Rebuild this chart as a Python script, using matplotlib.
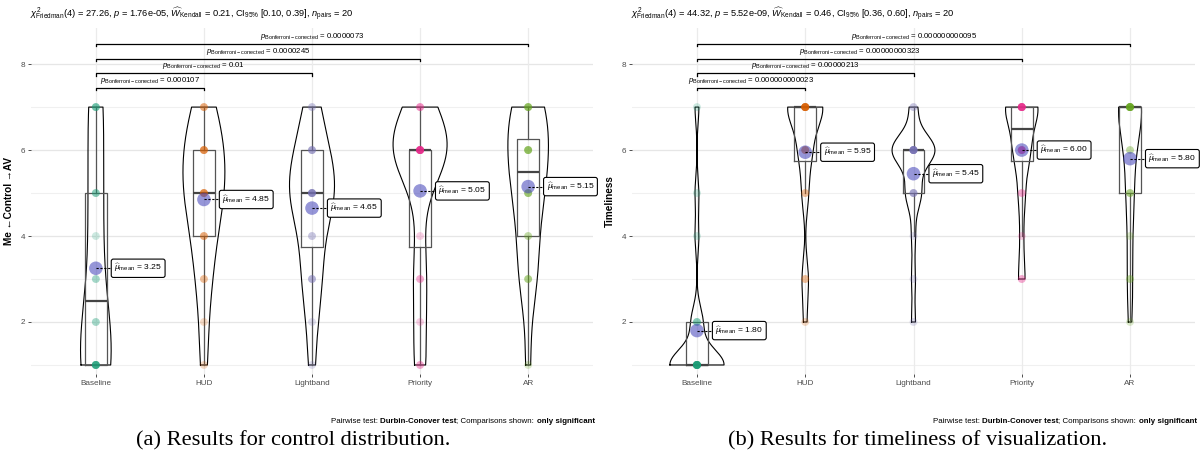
import numpy as np
import matplotlib
matplotlib.use('Agg')
import matplotlib.pyplot as plt

plt.rcParams['font.family'] = ['Liberation Sans', 'DejaVu Sans']
plt.rcParams['mathtext.fontset'] = 'custom'
plt.rcParams['mathtext.rm'] = 'Liberation Sans'
plt.rcParams['mathtext.it'] = 'Liberation Sans:italic'
plt.rcParams['mathtext.bf'] = 'Liberation Sans:bold'
plt.rcParams['mathtext.sf'] = 'Liberation Sans'

# ---------------- data ----------------
categories = ['Baseline', 'HUD', 'Lightband', 'Priority', 'AR']
likert_levels = [1, 2, 3, 4, 5, 6, 7]

# number of participants (n = 20) giving each Likert level 1..7
control_counts = {
    'Baseline':  [8, 2, 2, 1, 3, 0, 4],
    'HUD':       [1, 1, 2, 3, 5, 5, 3],
    'Lightband': [1, 1, 3, 2, 7, 4, 2],
    'Priority':  [2, 1, 2, 1, 0, 11, 3],
    'AR':        [1, 0, 3, 2, 4, 5, 5],
}
timeliness_counts = {
    'Baseline':  [14, 3, 0, 1, 1, 0, 1],
    'HUD':       [0, 1, 2, 0, 2, 4, 11],
    'Lightband': [0, 1, 1, 1, 4, 11, 2],
    'Priority':  [0, 0, 2, 1, 2, 5, 10],
    'AR':        [0, 1, 2, 1, 3, 2, 11],
}

control_pairs = [('Baseline', 'HUD'), ('Baseline', 'Lightband'),
                 ('Baseline', 'Priority'), ('Baseline', 'AR')]
control_p = ['0.000107', '0.01', '0.0000245', '0.0000073']
timeliness_pairs = control_pairs
timeliness_p = ['0.000000000023', '0.00000213', '0.00000000323', '0.000000000095']

control_stats = dict(chi='27.26', p='1.76e-05', W='0.21', ci='[0.10, 0.39]', n='20')
timeliness_stats = dict(chi='44.32', p='5.52e-09', W='0.46', ci='[0.36, 0.60]', n='20')

ylabels = ['Me \u2190Control \u2192AV', 'Timeliness']
captions = ['(a) Results for control distribution.',
            '(b) Results for timeliness of visualization.']

colors = ['#1B9E77', '#D95F02', '#7570B3', '#E7298A', '#66A61E']
mean_color = '#4040B8'

W, H = 1202, 457
fig = plt.figure(figsize=(W / 100, H / 100), dpi=100)


def nrd0(x):
    sd = np.std(x, ddof=1)
    q75, q25 = np.percentile(x, [75, 25])
    lo = min(sd, (q75 - q25) / 1.34)
    if lo == 0:
        lo = sd if sd > 0 else 1.0
    return 0.9 * lo * len(x) ** (-0.2)


def draw_panel(ax, counts, pairs, pvals, stats, ylabel):
    data = [np.repeat(likert_levels, counts[c]).astype(float) for c in categories]
    pos = np.arange(1, len(categories) + 1)

    # grid
    for v in [1, 3, 5, 7]:
        ax.axhline(v, color='#F0F0F0', lw=0.8, zorder=0)
    for v in [2, 4, 6, 8]:
        ax.axhline(v, color='#E6E6E6', lw=0.9, zorder=0)
    for p in pos:
        ax.axvline(p, color='#EBEBEB', lw=0.9, zorder=0)

    # violins (ggplot-like: nrd0 bandwidth, trimmed, area scaled)
    dens = []
    for d in data:
        bw = nrd0(d)
        grid = np.linspace(d.min(), d.max(), 512)
        k = np.exp(-0.5 * ((grid[:, None] - d[None, :]) / bw) ** 2).sum(1) / (len(d) * bw * np.sqrt(2 * np.pi))
        dens.append((grid, k))
    gmax = max(k.max() for _, k in dens)
    for p, (grid, k) in zip(pos, dens):
        hw = 0.25 * k / gmax
        xs = np.concatenate([p - hw, (p + hw)[::-1], [p - hw[0]]])
        ys = np.concatenate([grid, grid[::-1], [grid[0]]])
        ax.plot(xs, ys, color='black', lw=0.8, zorder=2)

    # boxplots
    ax.boxplot(data, positions=pos, widths=0.2, showfliers=False, whis=1.5,
               showcaps=False, patch_artist=False, manage_ticks=False,
               boxprops=dict(color='#555555', lw=0.9),
               whiskerprops=dict(color='#555555', lw=0.9),
               medianprops=dict(color='#444444', lw=1.6), zorder=3)

    # points
    for p, d, c in zip(pos, data, colors):
        ax.scatter(np.full(len(d), p), d, s=32, color=c, alpha=0.22,
                   edgecolors='none', zorder=4)

    # means + labels
    for p, d in zip(pos, data):
        m = d.mean()
        ax.scatter([p], [m], s=95, color=mean_color, alpha=0.55,
                   edgecolors='none', zorder=5)
        ax.plot([p, p + 0.17], [m, m], color='black', lw=0.8,
                ls=(0, (2, 1.5)), zorder=5)
        ax.text(p + 0.17, m, r'$\widehat{\mu}_{\mathrm{mean}}$ = %.2f' % m,
                ha='left', va='center', fontsize=6.1, zorder=6,
                bbox=dict(boxstyle='round,pad=0.35,rounding_size=0.25',
                          fc='white', ec='black', lw=0.8))

    # significance brackets
    tip = 0.05
    for i, ((a, b), pv) in enumerate(zip(pairs, pvals)):
        x1 = categories.index(a) + 1
        x2 = categories.index(b) + 1
        y = 7.44 + 0.343 * i
        ax.plot([x1, x1, x2, x2], [y - tip, y, y, y - tip], color='black',
                lw=0.9, zorder=3)
        ax.text((x1 + x2) / 2, y + 0.05,
                r'$p_{\mathrm{Bonferroni-corrected}}$ = ' + pv,
                ha='center', va='bottom', fontsize=5.6)

    ax.set_xlim(0.4, 5.6)
    ax.set_ylim(0.79, 8.84)
    ax.set_xticks(pos)
    ax.set_xticklabels(categories)
    ax.set_yticks([2, 4, 6, 8])
    ax.tick_params(axis='both', colors='#4D4D4D', labelsize=5.9,
                   length=2.2, width=0.7, pad=2)
    for s in ax.spines.values():
        s.set_visible(False)
    ax.set_ylabel(ylabel, fontsize=7.2, fontweight='bold')
    ax.yaxis.set_label_coords(-0.03, 0.5)

    # subtitle
    sub = (r'$\chi^2_{\mathrm{Friedman}}$(4) = ' + stats['chi'] +
           r', $p$ = ' + stats['p'] +
           r', $\widehat{W}_{\mathrm{Kendall}}$ = ' + stats['W'] +
           r', CI$_{95\%}$ ' + stats['ci'] +
           r', $n_{\mathrm{pairs}}$ = ' + stats['n'])
    ax.text(-0.002, 1.04, sub, transform=ax.transAxes, ha='left',
            va='center', fontsize=6.7)

    # pairwise caption (mixed bold), right aligned
    pieces = [('Pairwise test: ', 'normal'), ('Durbin-Conover test', 'bold'),
              ('; Comparisons shown: ', 'normal'), ('only significant', 'bold')]
    prev = None
    for txt, wt in reversed(pieces):
        if prev is None:
            prev = ax.annotate(txt, xy=(1.003, -0.143), xycoords='axes fraction',
                               ha='right', va='baseline', fontsize=5.7, fontweight=wt)
        else:
            prev = ax.annotate(txt, xy=(0, 0), xycoords=prev,
                               ha='right', va='bottom', fontsize=5.7, fontweight=wt)


axes_px = [(31, 593), (632, 1195)]
caption_centers_px = [293, 918]
top_px, bot_px = 28, 374
panels = [
    (control_counts, control_pairs, control_p, control_stats),
    (timeliness_counts, timeliness_pairs, timeliness_p, timeliness_stats),
]
for (l, r), cx, (cnt, prs, pv, st), yl, cap in zip(axes_px, caption_centers_px,
                                                  panels, ylabels, captions):
    ax = fig.add_axes([l / W, (H - bot_px) / H, (r - l) / W, (bot_px - top_px) / H])
    draw_panel(ax, cnt, prs, pv, st, yl)
    fig.text(cx / W, (H - 441) / H, cap, ha='center', va='center',
             fontsize=16.2, family=['Liberation Serif', 'DejaVu Serif'])

fig.savefig('out.png', dpi=100)
